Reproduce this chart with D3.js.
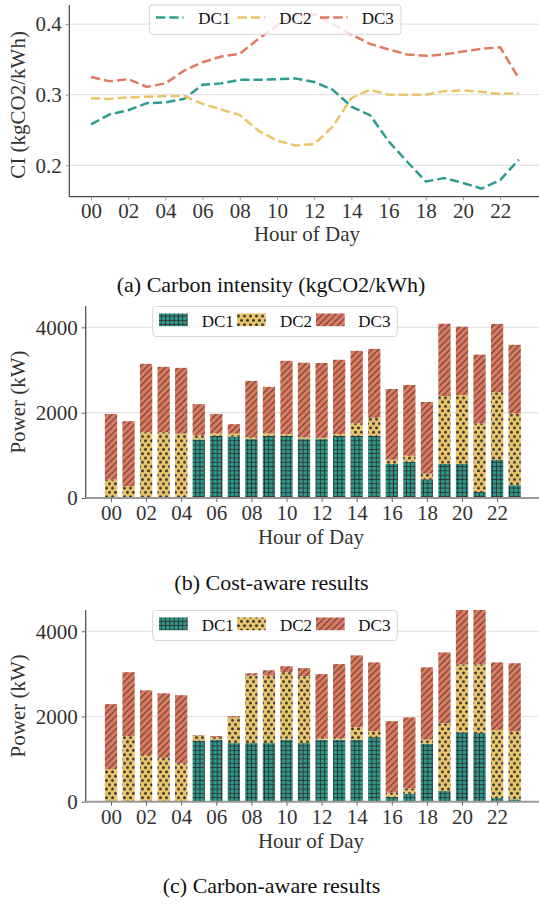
<!DOCTYPE html>
<html>
<head>
<meta charset="utf-8">
<script src="https://cdn.jsdelivr.net/npm/d3@7/dist/d3.min.js"></script>
<style>
  html, body { margin: 0; padding: 0; background: #fff; }
  svg { display: block; }
  text { font-family: "Liberation Serif", "Times New Roman", serif; }
</style>
</head>
<body>
<svg id="chart" width="539" height="906"></svg>
<script>
// ---------------- DATA ----------------
const hours = d3.range(24);
const tickHours = [0, 2, 4, 6, 8, 10, 12, 14, 16, 18, 20, 22];
const tickLabels = ["00","02","04","06","08","10","12","14","16","18","20","22"];
const seriesNames = ["DC1", "DC2", "DC3"];

// (a) Carbon intensity (kgCO2/kWh)
const ciDC1 = [0.258,0.272,0.278,0.288,0.289,0.294,0.314,0.316,0.321,0.321,0.322,0.323,0.318,0.307,0.283,0.271,0.234,0.205,0.177,0.182,0.175,0.167,0.179,0.208];
const ciDC2 = [0.295,0.294,0.296,0.297,0.298,0.298,0.287,0.279,0.271,0.249,0.235,0.228,0.230,0.255,0.295,0.307,0.300,0.300,0.300,0.305,0.306,0.304,0.301,0.302];
const ciDC3 = [0.325,0.319,0.322,0.311,0.316,0.334,0.346,0.354,0.358,0.379,0.398,0.412,0.414,0.400,0.385,0.372,0.364,0.357,0.355,0.357,0.361,0.365,0.367,0.323];
const ciTicks = [0.2, 0.3, 0.4];

// (b) Cost-aware results, power per DC (kW)
const costDC1 = [0,0,0,0,0,1370,1460,1440,1380,1460,1460,1380,1380,1460,1460,1460,800,850,440,800,800,140,890,300];
const costDC2 = [430,280,1540,1540,1510,100,55,70,50,55,40,40,30,40,290,420,100,140,130,1590,1615,1610,1590,1680];
const costDC3 = [1540,1520,1605,1535,1540,730,455,220,1315,1090,1715,1750,1755,1740,1700,1615,1655,1660,1680,1695,1600,1610,1600,1610];

// (c) Carbon-aware results, power per DC (kW)
const carbDC1 = [0,0,0,0,0,1430,1455,1375,1375,1375,1455,1375,1455,1455,1455,1515,115,185,1360,250,1630,1610,85,55];
const carbDC2 = [765,1540,1095,1030,905,115,60,610,1585,1585,1585,1570,40,40,295,140,95,125,100,1585,1595,1615,1600,1595];
const carbDC3 = [1525,1500,1520,1515,1595,15,25,25,55,125,140,190,1500,1735,1685,1615,1680,1670,1695,1670,1600,1600,1585,1600];
const powerTicks = [0, 2000, 4000];

// ---------------- STYLE ----------------
const colors = ["#2a9d8f", "#e9c46a", "#e07a5f"];
const hatchColor = "#333333";
const FONT_TICK = 21, FONT_LABEL = 21, FONT_CAP = 22, FONT_LEG = 17;

const svg = d3.select("#chart");
const defs = svg.append("defs");

// Patterns (hatches)
const pGrid = defs.append("pattern").attr("id", "hatch0").attr("patternUnits", "userSpaceOnUse")
  .attr("width", 4.3).attr("height", 4.3);
pGrid.append("rect").attr("width", 4.3).attr("height", 4.3).attr("fill", colors[0]);
pGrid.append("line").attr("x1", 2.15).attr("x2", 2.15).attr("y1", 0).attr("y2", 4.3).attr("stroke", hatchColor).attr("stroke-width", 1);
pGrid.append("line").attr("y1", 2.15).attr("y2", 2.15).attr("x1", 0).attr("x2", 4.3).attr("stroke", hatchColor).attr("stroke-width", 1);

const pDot = defs.append("pattern").attr("id", "hatch1").attr("patternUnits", "userSpaceOnUse")
  .attr("width", 6).attr("height", 8.6);
pDot.append("rect").attr("width", 6).attr("height", 8.6).attr("fill", colors[1]);
pDot.append("circle").attr("cx", 1.5).attr("cy", 2.15).attr("r", 1.45).attr("fill", hatchColor);
pDot.append("circle").attr("cx", 4.5).attr("cy", 6.45).attr("r", 1.45).attr("fill", hatchColor);

const pDiag = defs.append("pattern").attr("id", "hatch2").attr("patternUnits", "userSpaceOnUse")
  .attr("width", 6.5).attr("height", 6.5);
pDiag.append("rect").attr("width", 6.5).attr("height", 6.5).attr("fill", colors[2]);
pDiag.append("path").attr("d", "M-1,1 L1,-1 M0,6.5 L6.5,0 M5.5,7.5 L7.5,5.5")
  .attr("stroke", hatchColor).attr("stroke-width", 1).attr("stroke-opacity", 0.9);

function styleSpine(sel, color, width) {
  sel.attr("stroke", color).attr("stroke-width", width).attr("fill", "none");
}

// ---------------- (a) LINE CHART ----------------
(function () {
  const left = 69.3, right = 539, top = 5, bottom = 196.7;
  const x = d3.scaleLinear().domain([0, 23]).range([91, 91 + 23 * 18.6]);
  const y = d3.scaleLinear().domain([0.1555, 0.427]).range([bottom, top]);
  const g = svg.append("g");

  g.selectAll("line.grid").data(ciTicks).enter().append("line")
    .attr("x1", left).attr("x2", right).attr("y1", d => y(d)).attr("y2", d => y(d))
    .attr("stroke", "#e3e3e3").attr("stroke-width", 1.2);

  const series = [ciDC1, ciDC2, ciDC3];
  const line = d3.line().x((d, i) => x(i)).y(d => y(d));
  series.forEach((s, k) => {
    g.append("path").datum(s).attr("d", line).attr("fill", "none")
      .attr("stroke", colors[k]).attr("stroke-width", 2.5)
      .attr("stroke-dasharray", "9.25,4");
  });

  styleSpine(g.append("line").attr("x1", left).attr("x2", left).attr("y1", top).attr("y2", bottom), "#444", 1.2);
  styleSpine(g.append("line").attr("x1", left).attr("x2", right).attr("y1", bottom).attr("y2", bottom), "#444", 1.2);

  const xa = d3.axisBottom(x).tickValues(tickHours).tickFormat((d, i) => tickLabels[i]).tickSize(3.5).tickPadding(3);
  const gx = g.append("g").attr("transform", `translate(0,${bottom})`).call(xa);
  gx.select(".domain").remove();
  gx.selectAll(".tick line").attr("stroke", "#999");
  gx.selectAll(".tick text").attr("font-size", FONT_TICK).attr("fill", "#333")
    .attr("font-family", "Liberation Serif").attr("dy", "0.71em");

  const ya = d3.axisLeft(y).tickValues(ciTicks).tickFormat(d3.format(".1f")).tickSize(3.5).tickPadding(4);
  const gy = g.append("g").attr("transform", `translate(${left},0)`).call(ya);
  gy.select(".domain").remove();
  gy.selectAll(".tick line").attr("stroke", "#999");
  gy.selectAll(".tick text").attr("font-size", FONT_TICK).attr("fill", "#333").attr("font-family", "Liberation Serif");

  g.append("text").attr("x", 307).attr("y", 241).attr("text-anchor", "middle")
    .attr("font-size", FONT_LABEL).attr("fill", "#333").text("Hour of Day");
  g.append("text").attr("transform", `translate(25,${(top + bottom) / 2 + 4}) rotate(-90)`)
    .attr("text-anchor", "middle").attr("font-size", FONT_LABEL).attr("fill", "#333").text("CI (kgCO2/kWh)");

  const lg = g.append("g");
  lg.append("rect").attr("x", 149.3).attr("y", 5).attr("width", 251.7).attr("height", 29.3)
    .attr("rx", 3).attr("fill", "#fff").attr("fill-opacity", 0.8).attr("stroke", "#d6d6d6").attr("stroke-width", 1);
  const lx = [156, 237.7, 320], tx = [198.3, 279.3, 361.7];
  seriesNames.forEach((n, k) => {
    lg.append("line").attr("x1", lx[k]).attr("x2", lx[k] + 27.5).attr("y1", 17.5).attr("y2", 17.5)
      .attr("stroke", colors[k]).attr("stroke-width", 2.5).attr("stroke-dasharray", "9.25,4");
    lg.append("text").attr("x", tx[k]).attr("y", 23.8).attr("font-size", FONT_LEG).attr("fill", "#111").text(n);
  });

  svg.append("text").attr("x", 271).attr("y", 292).attr("text-anchor", "middle")
    .attr("font-size", FONT_CAP).attr("fill", "#111").text("(a) Carbon intensity (kgCO2/kWh)");
})();

// ---------------- BAR CHARTS ----------------
function barChart(cfg) {
  const left = 85.7, right = 539;
  const x = d3.scaleLinear().domain([0, 23]).range([111, 111 + 23 * 17.55]);
  const y = d3.scaleLinear().domain([0, 4500]).range([cfg.bottom, cfg.top]);
  const bw = 0.7 * 17.55;
  const g = svg.append("g");
  const clipId = "clip" + cfg.id;
  defs.append("clipPath").attr("id", clipId).append("rect")
    .attr("x", left).attr("y", cfg.top).attr("width", right - left).attr("height", cfg.bottom - cfg.top);

  g.selectAll("line.grid").data(powerTicks.filter(d => d > 0)).enter().append("line")
    .attr("x1", left).attr("x2", right).attr("y1", d => y(d)).attr("y2", d => y(d))
    .attr("stroke", "#e3e3e3").attr("stroke-width", 1.2);

  const table = hours.map(h => ({ h, DC1: cfg.data[0][h], DC2: cfg.data[1][h], DC3: cfg.data[2][h] }));
  const stacked = d3.stack().keys(seriesNames)(table);
  const bars = g.append("g").attr("clip-path", `url(#${clipId})`);
  stacked.forEach((layer, k) => {
    bars.selectAll(null).data(layer).enter().append("rect")
      .attr("x", d => x(d.data.h) - bw / 2).attr("width", bw)
      .attr("y", d => y(d[1])).attr("height", d => Math.max(0, y(d[0]) - y(d[1])))
      .attr("fill", `url(#hatch${k})`);
  });

  styleSpine(g.append("line").attr("x1", left).attr("x2", left).attr("y1", cfg.top).attr("y2", cfg.bottom), "#444", 1.2);
  styleSpine(g.append("line").attr("x1", left).attr("x2", right).attr("y1", cfg.bottom).attr("y2", cfg.bottom), "#999", 2);

  const xa = d3.axisBottom(x).tickValues(tickHours).tickFormat((d, i) => tickLabels[i]).tickSize(4).tickPadding(3);
  const gx = g.append("g").attr("transform", `translate(0,${cfg.bottom})`).call(xa);
  gx.select(".domain").remove();
  gx.selectAll(".tick line").attr("stroke", "#666");
  gx.selectAll(".tick text").attr("font-size", FONT_TICK).attr("fill", "#333").attr("font-family", "Liberation Serif");

  const ya = d3.axisLeft(y).tickValues(powerTicks).tickFormat(d3.format("d")).tickSize(4).tickPadding(4);
  const gy = g.append("g").attr("transform", `translate(${left},0)`).call(ya);
  gy.select(".domain").remove();
  gy.selectAll(".tick line").attr("stroke", "#666");
  gy.selectAll(".tick text").attr("font-size", FONT_TICK).attr("fill", "#333").attr("font-family", "Liberation Serif");

  g.append("text").attr("x", 311).attr("y", cfg.bottom + 46).attr("text-anchor", "middle")
    .attr("font-size", FONT_LABEL).attr("fill", "#333").text("Hour of Day");
  g.append("text").attr("transform", `translate(25,${(cfg.top + cfg.bottom) / 2}) rotate(-90)`)
    .attr("text-anchor", "middle").attr("font-size", FONT_LABEL).attr("fill", "#333").text("Power (kW)");

  const ly = cfg.top + 0.5;
  const lg = g.append("g");
  lg.append("rect").attr("x", 152.7).attr("y", ly).attr("width", 244.6).attr("height", 30)
    .attr("rx", 3).attr("fill", "#fff").attr("fill-opacity", 0.8).attr("stroke", "#d6d6d6").attr("stroke-width", 1);
  const px = [159, 237, 316], tx = [201.7, 280, 358.3];
  seriesNames.forEach((n, k) => {
    lg.append("rect").attr("x", px[k]).attr("y", ly + 7).attr("width", 28.7).attr("height", 12.7)
      .attr("fill", `url(#hatch${k})`);
    lg.append("text").attr("x", tx[k]).attr("y", ly + 20.5).attr("font-size", FONT_LEG).attr("fill", "#111").text(n);
  });

  svg.append("text").attr("x", 271.5).attr("y", cfg.capY).attr("text-anchor", "middle")
    .attr("font-size", FONT_CAP).attr("fill", "#111").text(cfg.caption);
}

barChart({ id: "b", top: 306, bottom: 498, data: [costDC1, costDC2, costDC3], caption: "(b) Cost-aware results", capY: 590 });
barChart({ id: "c", top: 610, bottom: 801.7, data: [carbDC1, carbDC2, carbDC3], caption: "(c) Carbon-aware results", capY: 893 });
</script>
</body>
</html>
